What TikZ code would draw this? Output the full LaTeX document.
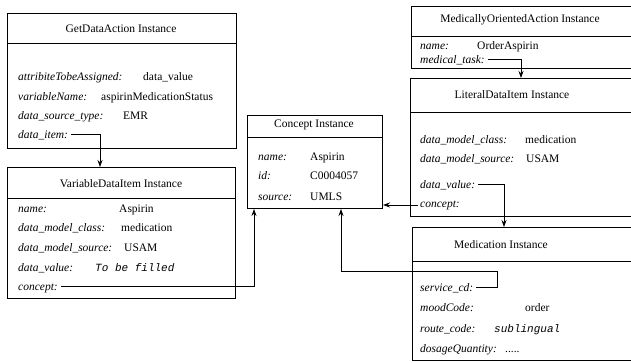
\documentclass[tikz,border=0pt]{standalone}
\usepackage{fontspec}
\setmainfont{Liberation Serif}
\setmonofont{Liberation Mono}
\usetikzlibrary{arrows.meta,positioning}

\begin{document}
\begin{tikzpicture}[x=1pt,y=-1pt,
    box/.style={draw,line width=1pt,anchor=north west,inner sep=0pt},
    rule/.style={line width=0.6pt},
    title/.style={font=\fontsize{11.5}{13}\selectfont,inner sep=0pt},
    lab/.style={font=\fontsize{11.5}{13}\selectfont\itshape,anchor=base west,inner sep=0pt},
    val/.style={font=\fontsize{11.5}{13}\selectfont,anchor=base west,inner sep=0pt},
    code/.style={font=\fontsize{11}{13}\selectfont\ttfamily\itshape,anchor=base west,inner sep=0pt},
    link/.style={line width=0.8pt,-{Stealth[length=7pt,width=5pt]}}]
  \useasboundingbox (0,0) rectangle (631,362);
  % instance boxes
  \node[box,minimum width=229pt,minimum height=135pt] (gda) at (7,13) {};
  \node[box,minimum width=228pt,minimum height=131pt] (vdi) at (7,167) {};
  \node[box,minimum width=135pt,minimum height=93pt] (cpt) at (247,115) {};
  \node[box,minimum width=230pt,minimum height=62pt] (moa) at (411,6) {};
  \node[box,minimum width=230pt,minimum height=138pt] (ldi) at (410,78) {};
  \node[box,minimum width=230pt,minimum height=133pt] (med) at (412,227) {};
  % title rules
  \draw[rule] (7,43)--(236,43);
  \draw[rule] (7,198)--(235,198);
  \draw[rule] (247,137)--(382,137);
  \draw[rule] (411,36)--(641,36);
  \draw[rule] (410,112)--(640,112);
  \draw[rule] (412,261)--(642,261);
  % titles
  \node[title] (gdaHead) at (121,29) {GetDataAction Instance};
  \node[title] (vdiHead) at (121,184) {VariableDataItem Instance};
  \node[title] (cptHead) at (314,125) {Concept Instance};
  \node[title] (moaHead) at (520,20) {MedicallyOrientedAction Instance};
  \node[title] (ldiHead) at (512,95) {LiteralDataItem Instance};
  \node[title] (medHead) at (501,245) {Medication Instance};
  % GetDataAction
  \node[lab] (gdaAttr) at (18,80) {attribiteTobeAssigned:};
  \node[val] (gdaAttrVal) at (143,80) {data\_value};
  \node[lab] (gdaVar) at (18,100) {variableName:};
  \node[val] (gdaVarVal) at (101,100) {aspirinMedicationStatus};
  \node[lab] (gdaSrc) at (18,119) {data\_source\_type:};
  \node[val] (gdaSrcVal) at (123,119) {EMR};
  \node[lab] (gdaItem) at (18,138) {data\_item:};
  % VariableDataItem
  \node[lab] (vdiName) at (18,212) {name:};
  \node[val] (vdiNameVal) at (119,212) {Aspirin};
  \node[lab] (vdiCls) at (18,231) {data\_model\_class:};
  \node[val] (vdiClsVal) at (121,231) {medication};
  \node[lab] (vdiSrc) at (18,251) {data\_model\_source:};
  \node[val] (vdiSrcVal) at (124,251) {USAM};
  \node[lab] (vdiVal) at (18,271) {data\_value:};
  \node[code] (vdiValVal) at (95,271) {To be filled};
  \node[lab] (vdiCon) at (18,290) {concept:};
  % Concept
  \node[lab] (cptName) at (258,160) {name:};
  \node[val] (cptNameVal) at (310,160) {Aspirin};
  \node[lab] (cptId) at (258,179) {id:};
  \node[val] (cptIdVal) at (310,179) {C0004057};
  \node[lab] (cptSrc) at (258,200) {source:};
  \node[val] (cptSrcVal) at (310,200) {UMLS};
  % MedicallyOrientedAction
  \node[lab] (moaName) at (420,49) {name:};
  \node[val] (moaNameVal) at (477,49) {OrderAspirin};
  \node[lab] (moaTask) at (420,63) {medical\_task:};
  % LiteralDataItem
  \node[lab] (ldiCls) at (420,143) {data\_model\_class:};
  \node[val] (ldiClsVal) at (525,143) {medication};
  \node[lab] (ldiSrc) at (420,162) {data\_model\_source:};
  \node[val] (ldiSrcVal) at (526,162) {USAM};
  \node[lab] (ldiVal) at (420,188) {data\_value:};
  \node[lab] (ldiCon) at (420,207) {concept:};
  % Medication
  \node[lab] (medSvc) at (420,291) {service\_cd:};
  \node[lab] (medMood) at (420,311) {moodCode:};
  \node[val] (medMoodVal) at (525,311) {order};
  \node[lab] (medRoute) at (420,332) {route\_code:};
  \node[code] (medRouteVal) at (494,332) {sublingual};
  \node[lab] (medDose) at (420,352) {dosageQuantity:};
  \node[val] (medDoseVal) at (505,352) {.....};
  % references
  \coordinate (svcTurn) at (497,271);
  \draw[link] ([xshift=3pt,yshift=3.5pt]gdaItem.base east) -| ([xshift=93pt]vdi.north west);
  \draw[link] ([xshift=3pt,yshift=3.5pt]vdiCon.base east) -| ([xshift=7pt]cpt.south west);
  \draw[link] ([xshift=3pt,yshift=3.5pt]moaTask.base east) -| ([xshift=111pt]ldi.north west);
  \draw[link] ([xshift=3pt,yshift=3.5pt]ldiVal.base east) -| ([xshift=92pt]med.north west);
  \draw[link] ([xshift=-2pt]ldiCon.west) -- (ldiCon.west -| cpt.east);
  \draw[link] ([xshift=3pt,yshift=3.5pt]medSvc.base east) -| (svcTurn) -| ([xshift=94pt]cpt.south west);
\end{tikzpicture}
\end{document}
